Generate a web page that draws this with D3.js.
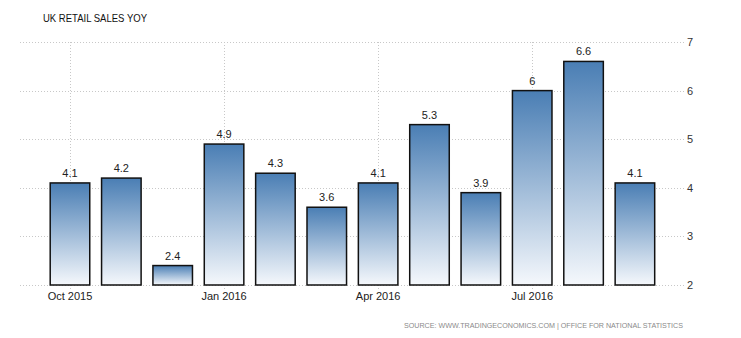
<!DOCTYPE html>
<html>
<head>
<meta charset="utf-8">
<script src="https://cdn.jsdelivr.net/npm/d3@7"></script>
<style>
  body { margin: 0; background: #fff; }
  text { font-family: "Liberation Sans", Arial, sans-serif; }
</style>
</head>
<body>
<div id="container"></div>
<script>
var w = 741,
  h = 338;

var months = ['Oct 2015', 'Nov 2015', 'Dec 2015', 'Jan 2016', 'Feb 2016', 'Mar 2016',
  'Apr 2016', 'May 2016', 'Jun 2016', 'Jul 2016', 'Aug 2016', 'Sep 2016'];
var values = [4.1, 4.2, 2.4, 4.9, 4.3, 3.6, 4.1, 5.3, 3.9, 6, 6.6, 4.1];
var yTicks = [2, 3, 4, 5, 6, 7];
var xTicks = ['Oct 2015', 'Jan 2016', 'Apr 2016', 'Jul 2016'];

var svg = d3.select('#container').append('svg')
  .attr('width', w)
  .attr('height', h);

var defs = svg.append('defs');
var grad = defs.append('linearGradient')
  .attr('id', 'barGrad')
  .attr('x1', 0).attr('y1', 0).attr('x2', 0).attr('y2', 1);
grad.append('stop').attr('offset', '0%').attr('stop-color', '#4a7eb4');
grad.append('stop').attr('offset', '100%').attr('stop-color', '#f5f8fc');

var xScale = d3.scaleBand()
  .domain(months)
  .range([44.3, 660.6])
  .paddingInner(0.23)
  .paddingOuter(0.115);

var yScale = d3.scaleLinear()
  .domain([2, 7])
  .range([285, 42]);

// horizontal grid
svg.append('g')
  .selectAll('line')
  .data(yTicks)
  .enter()
  .append('line')
  .attr('x1', 20)
  .attr('x2', 684)
  .attr('y1', d => Math.round(yScale(d)) + 0.5)
  .attr('y2', d => Math.round(yScale(d)) + 0.5)
  .attr('stroke', '#c8c8c8')
  .attr('stroke-dasharray', '1,2');

// vertical grid at labelled months
svg.append('g')
  .selectAll('line')
  .data(xTicks)
  .enter()
  .append('line')
  .attr('x1', d => Math.round(xScale(d) + xScale.bandwidth() / 2) + 0.5)
  .attr('x2', d => Math.round(xScale(d) + xScale.bandwidth() / 2) + 0.5)
  .attr('y1', 42)
  .attr('y2', 290)
  .attr('stroke', '#c8c8c8')
  .attr('stroke-dasharray', '1,2');

// y labels on the right
svg.append('g')
  .selectAll('text')
  .data(yTicks)
  .enter()
  .append('text')
  .attr('x', 687)
  .attr('y', d => yScale(d) + 4)
  .attr('font-size', 11)
  .attr('fill', '#333')
  .text(d => d);

// x labels
svg.append('g')
  .selectAll('text')
  .data(xTicks)
  .enter()
  .append('text')
  .attr('x', d => xScale(d) + xScale.bandwidth() / 2)
  .attr('y', 300)
  .attr('text-anchor', 'middle')
  .attr('font-size', 11)
  .attr('fill', '#222')
  .text(d => d);

// bars
svg.append('g')
  .selectAll('rect')
  .data(values)
  .enter()
  .append('rect')
  .attr('x', (d, i) => xScale(months[i]))
  .attr('y', d => yScale(d))
  .attr('width', xScale.bandwidth())
  .attr('height', d => yScale(2) - yScale(d))
  .attr('fill', 'url(#barGrad)')
  .attr('stroke', '#111')
  .attr('stroke-width', 1.5);

// value labels
svg.append('g')
  .selectAll('text')
  .data(values)
  .enter()
  .append('text')
  .attr('x', (d, i) => xScale(months[i]) + xScale.bandwidth() / 2)
  .attr('y', d => yScale(d) - 6)
  .attr('text-anchor', 'middle')
  .attr('font-size', 11)
  .attr('fill', '#222')
  .text(d => d);

svg.append('text')
  .attr('x', 43)
  .attr('y', 22)
  .attr('font-size', 11)
  .attr('fill', '#111')
  .attr('textLength', 104)
  .attr('lengthAdjust', 'spacingAndGlyphs')
  .text('UK RETAIL SALES YOY');

svg.append('text')
  .attr('x', 404)
  .attr('y', 328)
  .attr('font-size', 8)
  .attr('fill', '#8a8a8a')
  .attr('textLength', 279)
  .attr('lengthAdjust', 'spacingAndGlyphs')
  .text('SOURCE: WWW.TRADINGECONOMICS.COM | OFFICE FOR NATIONAL STATISTICS');
</script>
</body>
</html>
